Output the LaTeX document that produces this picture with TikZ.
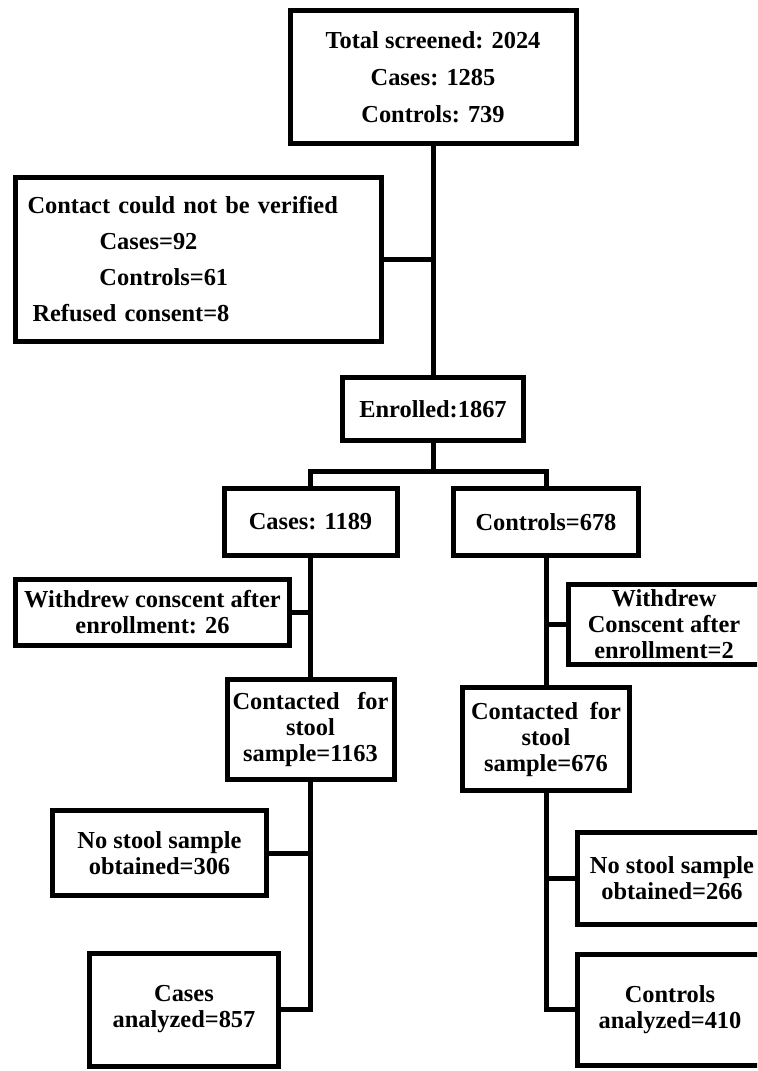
\documentclass[tikz,border=0pt]{standalone}
\usepackage{fontspec}
\setmainfont{Liberation Serif}
\usepackage{tikz}
\usetikzlibrary{positioning,calc}

\begin{document}
\begin{tikzpicture}[x=0.5pt, y=-0.5pt,
  box/.style={draw=black, fill=white, line width=2.5pt, inner sep=0pt,
    align=center, font=\bfseries\fontsize{12.2}{13}\selectfont}]
  \useasboundingbox (0,0) rectangle (757,1071);
  \clip (0,0) rectangle (757,1071);
  % screening and exclusions
  \node[box, minimum width=143pt, minimum height=66.5pt,
    font=\bfseries\fontsize{12.2}{18.5}\selectfont] (scr) at (433,77)
    {Total screened: 2024\\Cases: 1285\\Controls: 739};
  \node[box, minimum width=183pt, minimum height=82pt, align=left,
    text width=171pt, inner xsep=6pt,
    font=\bfseries\fontsize{12.2}{18}\selectfont] (nv) at (198.5,259.5)
    {Contact could not be verified\\\hspace*{36pt}Cases=92\\
     \hspace*{36pt}Controls=61\\\hspace*{2.5pt}Refused consent=8};
  \node[box, minimum width=90.5pt, minimum height=31.5pt] (enr) at (433,409) {Enrolled:1867};
  % two arms
  \node[box, minimum width=86.5pt, minimum height=33.5pt] (cas) at (310.5,522) {Cases: 1189};
  \node[box, minimum width=92.5pt, minimum height=33.5pt] (con) at (546,522) {Controls=678};
  \node[box, minimum width=137pt, minimum height=33pt] (wdc) at (152.5,612.5)
    {Withdrew conscent after\\enrollment: 26};
  \node[box, minimum width=95.5pt, minimum height=40pt] (wdn) at (664,624.5)
    {Withdrew\\Conscent after\\enrollment=2};
  \node[box, minimum width=83.5pt, minimum height=50pt] (cfc) at (310.5,729.5)
    {\makebox[78pt][s]{Contacted for}\\stool\\sample=1163};
  \node[box, minimum width=83.5pt, minimum height=51.5pt] (cfn) at (546,739)
    {\makebox[75pt][s]{Contacted for}\\stool\\sample=676};
  \node[box, minimum width=107pt, minimum height=42.5pt] (nsc) at (159.5,853)
    {No stool sample\\obtained=306};
  \node[box, minimum width=94.5pt, minimum height=46pt] (nsn) at (672,878.5)
    {No stool sample\\obtained=266};
  \node[box, minimum width=94.5pt, minimum height=56.5pt] (anc) at (184,1009.5)
    {Cases\\analyzed=857};
  \node[box, minimum width=92.5pt, minimum height=55.5pt] (ann) at (670,1009.5)
    {Controls\\analyzed=410};
  % connectors
  \draw[line width=2.5pt] (scr) -- (enr);
  \draw[line width=2.5pt] (nv.east) -- (nv.east -| scr.south);
  \draw[line width=2.5pt] (enr.south) -- ++(0,28) coordinate (fork);
  \draw[line width=2.5pt] (cas.north) |- (fork) -| (con.north);
  \draw[line width=2.5pt] (cas.south) -- (cfc.north);
  \draw[line width=2.5pt] (wdc.east) -- (wdc.east -| cas.south);
  \draw[line width=2.5pt] (con.south) -- (cfn.north);
  \draw[line width=2.5pt] (wdn.west) -- (wdn.west -| con.south);
  \draw[line width=2.5pt] (cfc.south) |- (anc.east);
  \draw[line width=2.5pt] (nsc.east) -- (nsc.east -| cfc.south);
  \draw[line width=2.5pt] (cfn.south) |- (ann.west);
  \draw[line width=2.5pt] (nsn.west) -- (nsn.west -| cfn.south);
\end{tikzpicture}
\end{document}
